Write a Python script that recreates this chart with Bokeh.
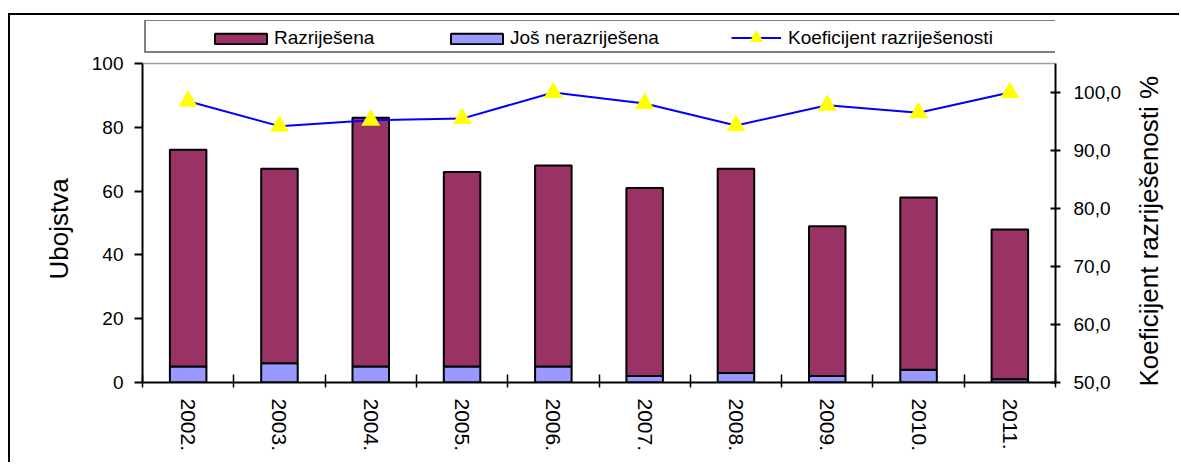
from bokeh.plotting import figure
from bokeh.layouts import row
from bokeh.models import (Range1d, LinearAxis, FixedTicker, Legend, LegendItem,
                          ColumnDataSource, Title)
from bokeh.embed import file_html
from bokeh.resources import INLINE

# ---- data ----
years = ["2002.", "2003.", "2004.", "2005.", "2006.",
         "2007.", "2008.", "2009.", "2010.", "2011."]
razrijesena = [68, 61, 78, 61, 63, 59, 64, 47, 54, 47]
nerazrijesena = [5, 6, 5, 5, 5, 2, 3, 2, 4, 1]
koeficijent = [98.5, 94.2, 95.2, 95.5, 100.0, 98.1, 94.3, 97.8, 96.5, 100.0]
left_ticks = [0, 20, 40, 60, 80, 100]
right_ticks = [50, 60, 70, 80, 90, 100]
right_labels = ["50,0", "60,0", "70,0", "80,0", "90,0", "100,0"]
left_bounds = (0, 100)
right_bounds = (50, 105)

FONT = "Liberation Sans"
n = len(years)
idx = list(range(n))

# layout: value area is 319 px tall; 43 px extra on top hold the legend
AREA_H = 319
EXTRA_H = 43
FRAME_H = AREA_H + EXTRA_H
TOP_B = 5
BOTTOM_B = 80
left_top = left_bounds[0] + (left_bounds[1] - left_bounds[0]) * FRAME_H / AREA_H
right_top = right_bounds[0] + (right_bounds[1] - right_bounds[0]) * FRAME_H / AREA_H

source = ColumnDataSource(dict(x=idx, year=years, razr=razrijesena,
                               neraz=nerazrijesena, koef=koeficijent))

p = figure(frame_width=913, frame_height=FRAME_H,
           min_border_left=132, min_border_right=75,
           min_border_top=TOP_B, min_border_bottom=BOTTOM_B,
           x_range=Range1d(-0.5, n - 0.5),
           y_range=Range1d(left_bounds[0], left_top),
           output_backend="svg", toolbar_location=None)

p.xgrid.visible = False
p.ygrid.ticker = FixedTicker(ticks=[left_bounds[1]])
p.ygrid.grid_line_color = "#a0a0a0"
p.ygrid.grid_line_width = 1.5
p.outline_line_color = None
p.background_fill_color = "white"
p.border_fill_color = "white"

p.extra_y_ranges = {"koef": Range1d(right_bounds[0], right_top)}

# bars (stacked: unresolved at the bottom, resolved on top)
bars = p.vbar_stack(["neraz", "razr"], x="x", width=0.4, source=source,
                    fill_color=["#9999FF", "#993366"], line_color="black",
                    line_width=2)

line = p.line("x", "koef", source=source, y_range_name="koef",
              line_color="#0000FF", line_width=2)
tri = p.scatter("x", "koef", source=source, y_range_name="koef",
                marker="triangle", size=19, fill_color="#FFFF00",
                line_color=None)

# x axis: labels at category centres, ticks at category boundaries
xa = p.xaxis[0]
xa.ticker = FixedTicker(ticks=idx, minor_ticks=[i - 0.5 for i in range(n + 1)])
xa.major_label_overrides = {i: y for i, y in zip(idx, years)}
xa.major_tick_in = 0
xa.major_tick_out = 0
xa.minor_tick_in = 8
xa.minor_tick_out = 5
xa.minor_tick_line_color = "black"
xa.minor_tick_line_width = 1.5
xa.axis_line_width = 2
xa.axis_line_color = "black"
xa.major_label_orientation = "vertical"
xa.major_label_standoff = 11
xa.major_label_text_font = FONT
xa.major_label_text_font_size = "21px"
xa.major_label_text_color = "black"

# left axis
ya = p.yaxis[0]
ya.ticker = FixedTicker(ticks=left_ticks)
ya.bounds = left_bounds
ya.major_tick_in = 0
ya.major_tick_out = 8
ya.major_tick_line_width = 2
ya.minor_tick_line_color = None
ya.axis_line_width = 2
ya.axis_line_color = "black"
ya.major_label_standoff = 11
ya.major_label_text_font = FONT
ya.major_label_text_font_size = "19px"
ya.major_label_text_color = "black"

# left axis title (text starts 103 px above the frame bottom)
lt = Title(text="Ubojstva", align="left", offset=103,
           text_font=FONT, text_font_size="26px", text_font_style="normal",
           text_color="black", standoff=30)
p.add_layout(lt, "left")

# right axis
ra = LinearAxis(y_range_name="koef", ticker=FixedTicker(ticks=right_ticks),
                bounds=right_bounds)
ra.major_label_overrides = {t: l for t, l in zip(right_ticks, right_labels)}
ra.major_tick_in = 5
ra.major_tick_out = 5
ra.major_tick_line_width = 2
ra.minor_tick_line_color = None
ra.axis_line_width = 2
ra.axis_line_color = "black"
ra.major_label_standoff = 13
ra.major_label_text_font = FONT
ra.major_label_text_font_size = "19px"
ra.major_label_text_color = "black"
p.add_layout(ra, "right")

# legend frame (box only)
dummy = p.scatter(x=[], y=[], marker="square", fill_alpha=0, line_alpha=0)
box = Legend(items=[LegendItem(label=" ", renderers=[dummy])],
             location=(2, 329), orientation="horizontal",
             padding=0, spacing=0, margin=0,
             glyph_width=10, glyph_height=30, label_standoff=0,
             label_width=906, label_height=30,
             label_text_font_size="10px",
             border_line_color="black", border_line_width=2,
             background_fill_color="white", background_fill_alpha=1)
p.add_layout(box, "center")


def item_legend(label, renderers, loc, gw, gh, standoff):
    return Legend(items=[LegendItem(label=label, renderers=renderers)],
                  location=loc, orientation="horizontal",
                  padding=0, spacing=0, margin=0,
                  glyph_width=gw, glyph_height=gh, label_standoff=standoff,
                  label_height=22,
                  label_text_font=FONT, label_text_font_size="19px",
                  label_text_color="black",
                  border_line_color=None, background_fill_alpha=0)


p.add_layout(item_legend("Razriješena", [bars[1]], (66, 333), 65, 13, 1), "center")
p.add_layout(item_legend("Još nerazriješena", [bars[0]], (302, 333), 65, 13, 1), "center")
p.add_layout(item_legend("Koeficijent razriješenosti", [line, tri], (589, 327), 50, 35, 7), "center")

# secondary-axis title: a narrow strip to the right of the chart so the
# text reads bottom-to-top like the reference
q = figure(frame_width=1, frame_height=FRAME_H,
           min_border_left=0, min_border_right=14,
           min_border_top=TOP_B, min_border_bottom=BOTTOM_B,
           x_axis_type=None, y_axis_type=None,
           output_backend="svg", toolbar_location=None)
q.outline_line_color = None
q.background_fill_color = "white"
q.border_fill_color = "white"
rt = Title(text="Koeficijent razriješenosti %", align="left", offset=-4,
           text_font=FONT, text_font_size="26px", text_font_style="normal",
           text_color="black", standoff=2)
q.add_layout(rt, "left")

layout = row(p, q)
layout.styles = {"margin-left": "8px", "margin-top": "13px",
                 "border-top": "2px solid #000", "border-left": "2px solid #000"}

open("out.html", "w").write(file_html(layout, INLINE))
